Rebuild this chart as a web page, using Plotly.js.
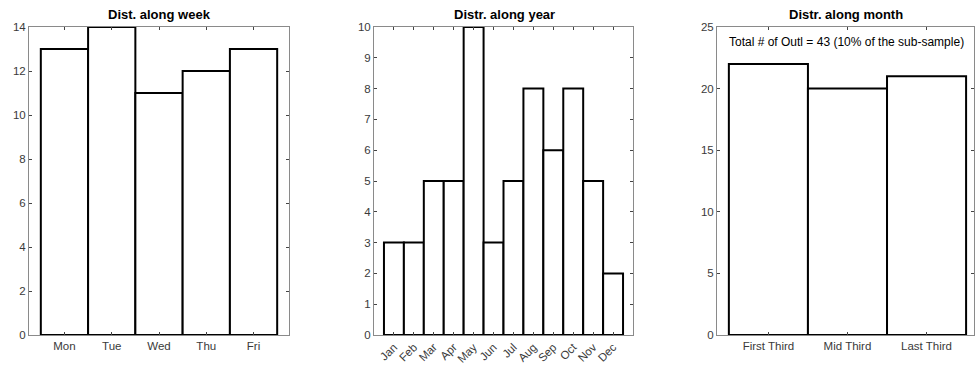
<!DOCTYPE html>
<html>
<head>
<meta charset="utf-8">
<script src="https://cdn.plot.ly/plotly-3.0.1.min.js"></script>
<style>html,body{margin:0;padding:0;background:#fff;}#chart{width:977px;height:372px;}</style>
</head>
<body>
<div id="chart"></div>
<script>
const weekDays = ["Mon", "Tue", "Wed", "Thu", "Fri"];
const weekCounts = [13, 14, 11, 12, 13];
const months = ["Jan", "Feb", "Mar", "Apr", "May", "Jun", "Jul", "Aug", "Sep", "Oct", "Nov", "Dec"];
const monthCounts = [3, 3, 5, 5, 10, 3, 5, 8, 6, 8, 5, 2];
const thirds = ["First Third", "Mid Third", "Last Third"];
const thirdCounts = [22, 20, 21];
const titles = ["Dist. along week", "Distr. along year", "Distr. along month"];
const noteText = "Total # of Outl = 43 (10% of the sub-sample)";

const FONT = "Liberation Sans, Arial, sans-serif";
const barStyle = {color: "#ffffff", line: {color: "#000000", width: 2}};
function barTrace(x, y, xa, ya) {
  return {type: "bar", x: x, y: y, xaxis: xa, yaxis: ya, marker: barStyle,
          cliponaxis: false, hoverinfo: "none", showlegend: false};
}
const traces = [
  barTrace(weekDays, weekCounts, "x", "y"),
  barTrace(months, monthCounts, "x2", "y2"),
  barTrace(thirds, thirdCounts, "x3", "y3")
];

const axisCommon = {
  showline: true, linecolor: "#8a8a8a", linewidth: 1, mirror: "ticks",
  ticks: "inside", ticklen: 3, tickcolor: "#444444", tickwidth: 1,
  showgrid: false, zeroline: false, fixedrange: true,
  tickfont: {family: FONT, size: 11.5, color: "#3a3a3a"}
};
const yDom = [37/372, 345/372];
function xa(dom, range, extra) {
  return Object.assign({}, axisCommon, {domain: dom, range: range, type: "category"}, extra || {});
}
function ya(range, dtick, anchor) {
  return Object.assign({}, axisCommon, {domain: yDom, range: range, dtick: dtick, anchor: anchor, tick0: 0});
}
function titleAnn(text, xpx) {
  return {text: "<b>" + text + "</b>", x: xpx/977, y: 1 - 15/372, xref: "paper", yref: "paper",
          xanchor: "center", yanchor: "middle", showarrow: false, font: {family: FONT, size: 13, color: "#000"}};
}
const layout = {
  width: 977, height: 372,
  margin: {l: 0, r: 0, t: 0, b: 0},
  paper_bgcolor: "#ffffff", plot_bgcolor: "#ffffff",
  bargap: 0,
  xaxis: xa([29/977, 289/977], [-0.75, 4.75], {anchor: "y"}),
  yaxis: ya([0, 14], 2, "x"),
  xaxis2: xa([374/977, 633/977], [-1, 12], {anchor: "y2", tickangle: -45}),
  yaxis2: ya([0, 10], 1, "x2"),
  xaxis3: xa([717/977, 974/977], [-0.65, 2.6], {anchor: "y3"}),
  yaxis3: ya([0, 25], 5, "x3"),
  annotations: [
    titleAnn(titles[0], 159),
    titleAnn(titles[1], 504),
    titleAnn(titles[2], 846),
    {text: noteText, x: 846/977, y: 1 - 42/372, xref: "paper", yref: "paper", xanchor: "center", yanchor: "middle",
     showarrow: false, font: {family: FONT, size: 12, color: "#000"}}
  ]
};
Plotly.newPlot("chart", traces, layout, {displayModeBar: false, staticPlot: true});
</script>
</body>
</html>
